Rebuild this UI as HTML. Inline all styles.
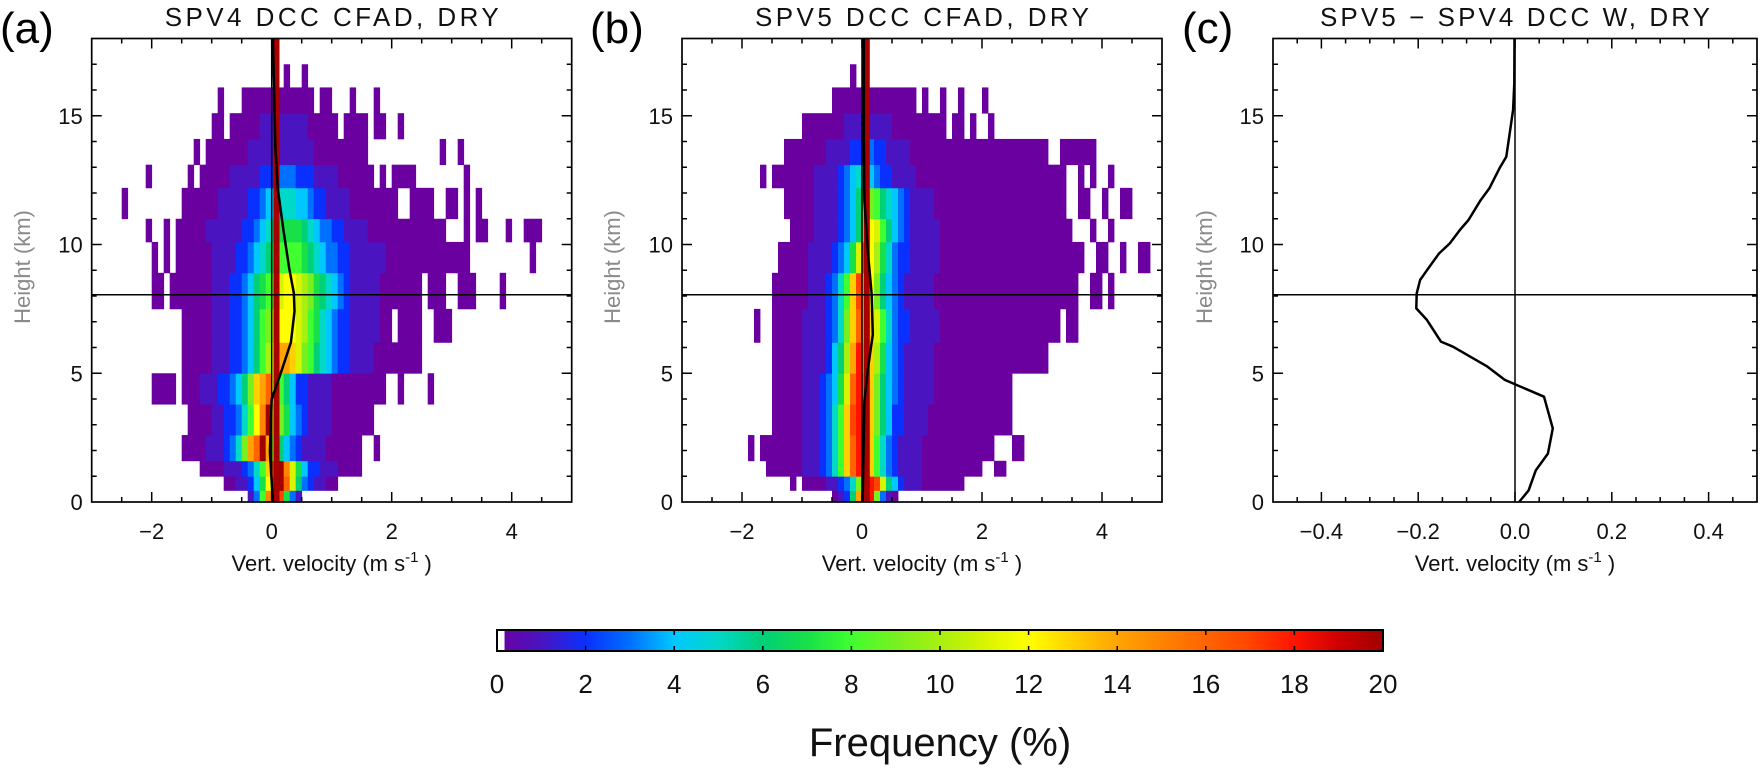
<!DOCTYPE html>
<html><head><meta charset="utf-8">
<style>
html,body{margin:0;padding:0;background:#fff;}
svg{display:block;font-family:"Liberation Sans",sans-serif;}
</style></head>
<body>
<svg id="fig" width="1762" height="771" viewBox="0 0 1762 771" xmlns="http://www.w3.org/2000/svg">
<defs>
<linearGradient id="cbgrad" x1="0" x2="1" y1="0" y2="0"></linearGradient>
</defs>
<g id="layer-cells"></g>
<g id="layer-lines"></g>
<g id="layer-axes"></g>
</svg>
<script>
// ---------- data ----------
const rowEdgesKm = [0,0.45,1.0,1.6,2.6,3.8,5.0,6.2,7.5,8.9,10.1,11.0,12.2,13.1,14.1,15.1,16.1,17.0];
const binStartV = -3.0;
const binWidthV = 0.1;
// codes: '.' empty, '0' ~0.4%, '1'-'9', 'a'..'k' = 10..20 %
const cfadRowsA = [
 [[26,"138fkh731"]],
 [[22,"0011247cikgb6321100"]],
 [[18,"00001112358dhkfb74221110000"]],
 [[15,"00001112359egkea64321111000000"],[47,"0"]],
 [[16,"00001122358cfkd9743211110000000"]],
 [[10,"0000"],[15,"000111223469degc864221111000000000"],[51,"0"],[56,"0"]],
 [[15,"000001112"],[24,"23468aceedb98654322"],[43,"111100000000"]],
 [[15,"000001112"],[24,"234689bcccba8754322"],[43,"1111100.0000..000"]],
 [[10,"00.00"],[15,"000001112"],[24,"2346789bccba9765432"],[43,"111110000000.000..000"],[68,"0"]],
 [[10,"0.0."],[14,"000000111"],[23,"12234567888876543322"],[43,"11111100000000000000"],[73,"0"]],
 [[9,"0..0."],[14,"000001111"],[23,"11223456777765433221"],[43,"1110000000000000"],[62,"0.00"],[69,"0"],[72,"000"]],
 [[5,"0"],[15,"00000011"],[23,"111223445554432211"],[41,"1100000000"],[53,"0000"],[59,"00"],[62,"0"],[64,"0"]],
 [[9,"0"],[16,"0."],[18,"00000111"],[26,"11222333222111"],[40,"1000000"],[48,"0.0000"],[62,"0"]],
 [[17,"0.000000011111111111000000000"],[58,"0"],[61,"0"]],
 [[20,"00.000001111111100000.0000"],[47,"00"],[51,"0"]],
 [[21,"0...000000000000"],[38,"00"],[43,"0"],[47,"0"]],
 [[32,"0"],[35,"0"]]
];
const cfadRowsB = [
 [[25,"0126eki9310"]],
 [[18,"0.0000112359fihb6421110000000"]],
 [[14,"0000001112358dgigd853211110000000000"],[52,"00"]],
 [[11,"0.00000001112358dgihd85321111000000000000"],[55,"00"]],
 [[15,"000001112358dhihd96422111100000000000000"]],
 [[15,"000001112347bgigd96432111110000000000000"]],
 [[15,"000001111246aeifda7432111110000000000000000000"]],
 [[12,"0."],[15,"0000011112359dgedb853221111100000000000000000000"],[64,"00"]],
 [[15,"0000001112358dhec9643211111000000000000000000000000..00.0"]],
 [[16,"0000011112347bhca7532211111000000000000000000000000..00..0..00"]],
 [[18,"0000111123469cb86432111110000000000000000000000...0..0"]],
 [[17,"00000111123469986543211110000000000000000000000..00..0..00"]],
 [[13,"0.0000000111123455432211110000000000000000000000000..0.0..0"]],
 [[17,"00000001111223322111100000000000000000000000..000000"]],
 [[20,"000000011111111000000000.00.0..0"]],
 [[25,"00000000000000"],[40,"0..0"],[46,"0"],[50,"0"]],
 [[28,"0"]]
];
const zeroBinV = [0.03, 0.13];
const meanLineA_km = [0,1.95,4.0,5.0,6.2,7.4,8.1,9.1,10.65,12.2,13.85,15.5,18];
const meanLineA_w  = [0.02,-0.03,0.0,0.15,0.32,0.38,0.37,0.29,0.19,0.10,0.06,0.045,0.02];
const meanLineB_km = [0,3.9,5.2,6.5,8.1,9.65,11.7,14.3,18];
const meanLineB_w  = [0.01,0.04,0.10,0.18,0.16,0.10,0.04,0.03,0.03];
const diffKm = [0,0.45,1.23,1.88,2.86,4.09,4.74,5.26,6.03,6.23,7.07,7.52,8.1,8.62,9.0,9.65,10.04,10.56,10.95,11.72,12.18,12.96,13.41,14.32,15.23,16.26,18];
const diffW  = [0.0085,0.028,0.043,0.068,0.078,0.06,-0.021,-0.057,-0.128,-0.153,-0.182,-0.204,-0.203,-0.196,-0.182,-0.157,-0.135,-0.114,-0.096,-0.071,-0.053,-0.032,-0.018,-0.011,-0.004,-0.0015,-0.001];
const refHeightKm = 8.05;
const yTicksKm = [0,5,10,15];
const xTicksCfad = [-2,0,2,4];
const xTicksDiff = [-0.4,-0.2,0.0,0.2,0.4];
const cbTicks = [0,2,4,6,8,10,12,14,16,18,20];

// ---------- colour map ----------
const cmap = ["#6a00a0","#4a14c0","#0a30ff","#0070ff","#00c8ff","#00d8c8","#00d078","#18e048","#40ff30","#78f020","#a8f010","#d8f400","#ffff00","#ffd000","#ffa400","#ff8400","#ff6400","#ff4400","#ff1400","#d00000","#a00000"];
function colorFor(p){const i=Math.max(0,Math.min(20,Math.round(p)));return cmap[i];}
function decode(c){ if(c==='.')return null; if(c==='0')return 0.4; if(c>='1'&&c<='9')return +c; return 10+(c.charCodeAt(0)-97); }

const NS="http://www.w3.org/2000/svg";
function mk(tag,attrs,parent){const e=document.createElementNS(NS,tag);for(const k in attrs)e.setAttribute(k,attrs[k]);parent.appendChild(e);return e;}
const cells=document.getElementById('layer-cells');
const lines=document.getElementById('layer-lines');
const axes=document.getElementById('layer-axes');

const Y0=502, PXKM=25.75;
function yKm(k){return Y0-PXKM*k;}
const panels={
 a:{x0:91.7,x1:571.7,vmin:-3,vmax:5},
 b:{x0:682,x1:1162,vmin:-3,vmax:5},
 c:{x0:1273,x1:1757,vmin:-0.5,vmax:0.5}
};
function xs(p,v){return p.x0+(v-p.vmin)/(p.vmax-p.vmin)*(p.x1-p.x0);}

function drawCfad(p,rows,tag){
 rows.forEach((segs,r)=>{
  const yt=yKm(rowEdgesKm[r+1]), yb=yKm(rowEdgesKm[r]);
  segs.forEach(([start,str])=>{
   for(let j=0;j<str.length;j++){
    const val=decode(str[j]); if(val===null)continue;
    const v=binStartV+(start+j)*binWidthV;
    const xl=xs(p,v), xr=xs(p,v+binWidthV);
    const rc=mk('rect',{x:xl.toFixed(2),y:yt.toFixed(2),width:(xr-xl+0.4).toFixed(2),height:(yb-yt+0.4).toFixed(2),fill:colorFor(val)},cells);
    
    
   }
  });
 });
 const col=mk('rect',{x:xs(p,zeroBinV[0]),y:yKm(18),width:xs(p,zeroBinV[1])-xs(p,zeroBinV[0]),height:yKm(0)-yKm(18),fill:"#a80000"},cells);
 
 
}
drawCfad(panels.a,cfadRowsA,'panel-a');
drawCfad(panels.b,cfadRowsB,'panel-b');

function polyline(p,ws,ks,name,w){
 const pts=ws.map((v,i)=>xs(p,v).toFixed(1)+","+yKm(ks[i]).toFixed(1)).join(" ");
 const pl=mk('polyline',{points:pts,fill:"none",stroke:"#000","stroke-width":w,"stroke-linejoin":"round"},lines);
 
 
}
function refLines(p,tag){
 const z=mk('line',{x1:xs(p,0),x2:xs(p,0),y1:yKm(18),y2:yKm(0),stroke:"#000","stroke-width":1.5},lines);
 
 
 const h=mk('line',{x1:p.x0,x2:p.x1,y1:yKm(refHeightKm),y2:yKm(refHeightKm),stroke:"#000","stroke-width":1.5},lines);
 
 
}
refLines(panels.a,'panel-a');refLines(panels.b,'panel-b');refLines(panels.c,'panel-c');
polyline(panels.a,meanLineA_w,meanLineA_km,'panel-a-mean-w-line',2.5);
polyline(panels.b,meanLineB_w,meanLineB_km,'panel-b-mean-w-line',2.5);
polyline(panels.c,diffW,diffKm,'panel-c-difference-line',2.5);

function txt(s,attrs,name){const t=mk('text',attrs,axes);t.textContent=s;return t;}

function frame(p,tag,minorStep,majorStep,xticks,fmt,title,label,labelX,titleLen){
 const yt=yKm(18), yb=yKm(0);
 const r=mk('rect',{x:p.x0,y:yt,width:p.x1-p.x0,height:yb-yt,fill:"none",stroke:"#000","stroke-width":1.7},axes);
 
 
 let d="";
 const n=Math.round((p.vmax-p.vmin)/minorStep);
 for(let i=1;i<n;i++){const v=p.vmin+i*minorStep;const x=xs(p,v);const maj=Math.abs(v/majorStep-Math.round(v/majorStep))<1e-6;const L=maj?10:5;
  d+=`M${x},${yb}v${-L}M${x},${yt}v${L}`;}
 for(let k=1;k<18;k++){const y=yKm(k);const L=(k%5===0)?10:5;d+=`M${p.x0},${y}h${L}M${p.x1},${y}h${-L}`;}
 const tk=mk('path',{d:d,stroke:"#000","stroke-width":1.5,fill:"none"},axes);
 
 
 xticks.forEach(v=>txt(fmt(v),{x:xs(p,v),y:539,"text-anchor":"middle","font-size":22,fill:"#111"},tag+'-x-tick-label'));
 yTicksKm.forEach(k=>txt(String(k),{x:p.x0-9,y:yKm(k)+8,"text-anchor":"end","font-size":22,fill:"#111"},tag+'-y-tick-label'));
 const cx=(p.x0+p.x1)/2;
 const xt=mk('text',{x:cx,y:571,"text-anchor":"middle","font-size":22,fill:"#111"},axes);
 
 
 xt.innerHTML='Vert. velocity (m s<tspan dy="-9" font-size="15">-1</tspan><tspan dy="9"> )</tspan>';
 txt('Height (km)',{x:0,y:0,"text-anchor":"middle","font-size":22,fill:"#8a8a8a",transform:`translate(${labelX},267) rotate(-90)`},tag+'-y-axis-title');
 txt(title,{x:cx,y:26,"text-anchor":"middle","font-size":26,fill:"#111",textLength:titleLen,lengthAdjust:"spacing"},tag+'-title');
 txt(label[0],{x:label[1],y:43,"font-size":44,fill:"#000"},tag+'-panel-label');
}
const fmtInt=v=>(v<0?"\u2212":"")+Math.abs(v);
const fmtDec=v=>(v<0?"\u2212":"")+Math.abs(v).toFixed(1);
frame(panels.a,'panel-a',0.5,2,xTicksCfad,fmtInt,'SPV4 DCC CFAD, DRY',['(a)',0],30,334);
frame(panels.b,'panel-b',0.5,2,xTicksCfad,fmtInt,'SPV5 DCC CFAD, DRY',['(b)',590],620,334);
frame(panels.c,'panel-c',0.05,0.2,xTicksDiff,fmtDec,'SPV5 \u2212 SPV4 DCC W, DRY',['(c)',1182],1212,390);

// colour bar
const grad=document.getElementById('cbgrad');
cmap.forEach((c,i)=>{mk('stop',{offset:(i/20*100)+"%","stop-color":c},grad);});
const CB={x0:497,x1:1383,y0:630,y1:651};
const cbx=v=>CB.x0+(v/20)*(CB.x1-CB.x0);
const cbr=mk('rect',{x:CB.x0,y:CB.y0,width:CB.x1-CB.x0,height:CB.y1-CB.y0,fill:"url(#cbgrad)"},axes);


const cbw=mk('rect',{x:CB.x0,y:CB.y0,width:cbx(0.17)-CB.x0,height:CB.y1-CB.y0,fill:"#fff"},axes);


const cbf=mk('rect',{x:CB.x0,y:CB.y0,width:CB.x1-CB.x0,height:CB.y1-CB.y0,fill:"none",stroke:"#000","stroke-width":2},axes);


let cd="";cbTicks.forEach(v=>{const x=cbx(v);cd+=`M${x},${CB.y0}v5M${x},${CB.y1}v-5`;});
const cbt=mk('path',{d:cd,stroke:"#000","stroke-width":1.5},axes);


cbTicks.forEach(v=>txt(String(v),{x:cbx(v),y:693,"text-anchor":"middle","font-size":26,fill:"#111"},'colorbar-tick-label'));
txt('Frequency (%)',{x:(CB.x0+CB.x1)/2,y:756,"text-anchor":"middle","font-size":40,fill:"#111"},'colorbar-title');
</script>
</body></html>
